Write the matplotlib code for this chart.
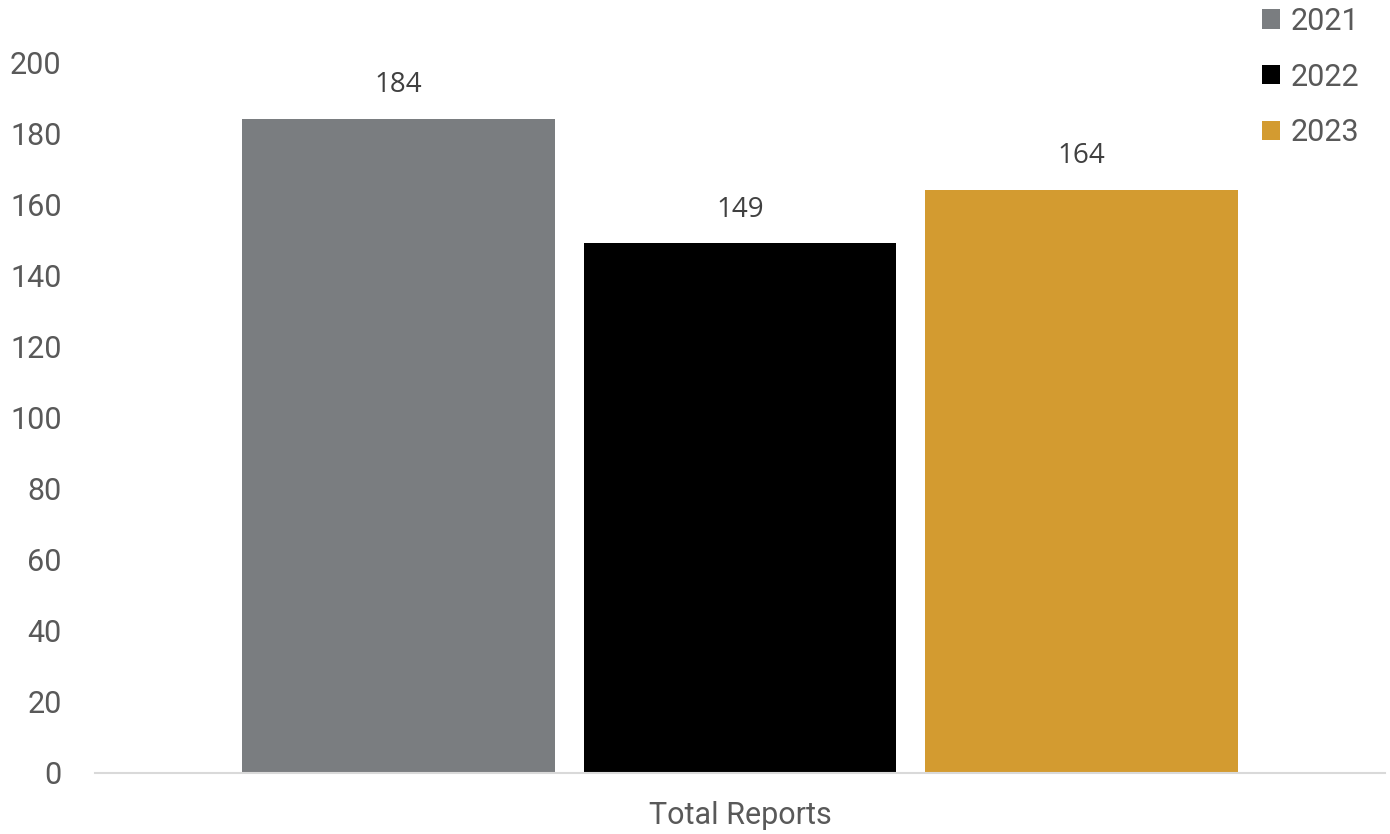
import matplotlib
matplotlib.use("Agg")
import matplotlib.pyplot as plt
from matplotlib.patches import Patch

categories = ["Total Reports"]
years = ["2021", "2022", "2023"]
values = [184, 149, 164]
colors = ["#7a7d80", "#000000", "#d39b30"]
yticks = [0, 20, 40, 60, 80, 100, 120, 140, 160, 180, 200]

plt.rcParams['font.family'] = ['Roboto', 'DejaVu Sans']

fig = plt.figure(figsize=(13.9, 8.34), dpi=100)
ax = fig.add_axes([95/1390, 1-773/834, 1290/1390, (773-62)/834])

width = 313/341.5
offsets = [-1, 0, 1]
for off, v, c, y in zip(offsets, values, colors, years):
    ax.bar(0 + off, v, width=width, color=c, label=y, zorder=2)
    ax.text(0 + off, v + 5.5, str(v), ha='center', va='bottom',
            fontsize=20, color='#404040', family=['Open Sans', 'DejaVu Sans'])

ax.set_xlim(-1.889, 1.889)
ax.set_ylim(0, 200)
ax.set_yticks(yticks)
ax.set_yticklabels([str(t) for t in yticks])
ax.set_xticks([0])
ax.set_xticklabels(categories)
ax.tick_params(axis='y', length=0, pad=24, labelsize=22, labelcolor='#595959')
ax.tick_params(axis='x', length=0, pad=20, labelsize=22, labelcolor='#595959')
for s in ['top', 'right', 'left']:
    ax.spines[s].set_visible(False)
ax.spines['bottom'].set_color('#d9d9d9')
ax.spines['bottom'].set_linewidth(1.5)

handles = [Patch(facecolor=c, edgecolor='none', label=y) for c, y in zip(colors, years)]
fig.legend(handles=handles, loc='upper right', bbox_to_anchor=(0.991, 1.014),
           frameon=False, fontsize=22, labelcolor='#595959',
           handlelength=0.6, handleheight=0.6, handletextpad=0.35,
           labelspacing=0.88, borderaxespad=0.2)

fig.savefig("out.png", dpi=100)
